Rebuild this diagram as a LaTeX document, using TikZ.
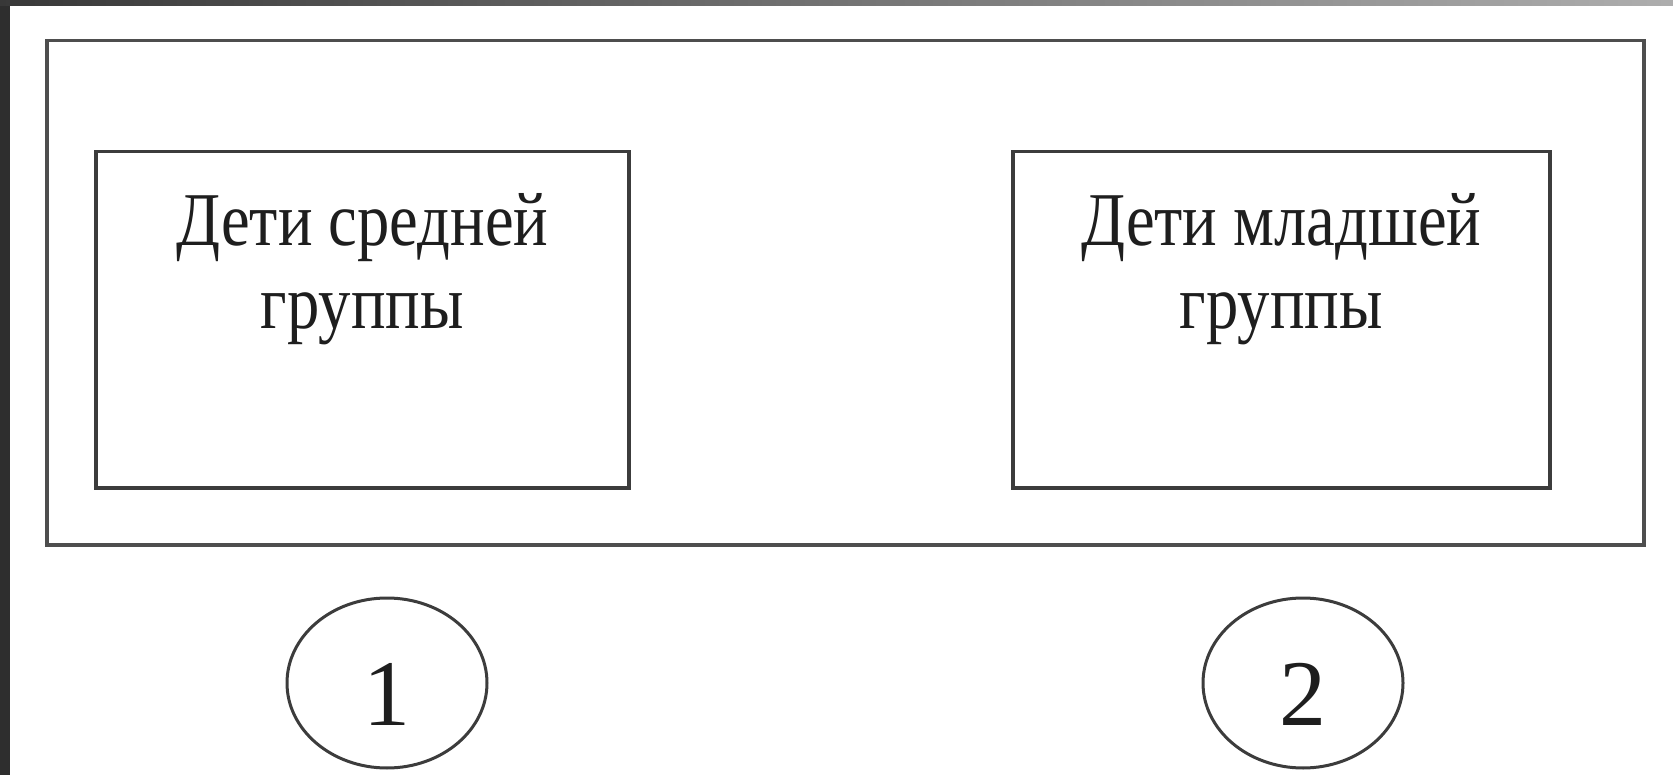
\documentclass[tikz,border=0pt]{standalone}
\usepackage{fontspec}
\setmainfont{Liberation Serif}
\newfontfamily\lblfont{Liberation Serif}[FakeStretch=0.85]
\newfontfamily\numfont{Liberation Serif}
\usetikzlibrary{shapes.geometric}
\definecolor{edge}{HTML}{3C3C3C}
\definecolor{outeredge}{HTML}{4E4E4E}
\definecolor{inktext}{HTML}{1E1E1E}
\tikzset{
  groupbox/.style={draw=edge, line width=3.5pt, fill=white, minimum width=533pt, minimum height=336pt, anchor=north west},
  grouplabel/.style={align=center, inner sep=0pt, anchor=north, font=\lblfont\fontsize{76}{83}\selectfont, text=inktext},
  numoval/.style={draw=edge, line width=3pt, ellipse, minimum width=200pt, minimum height=170pt, font=\numfont\fontsize{94}{94}\selectfont, text=inktext, inner sep=0pt, text height=85pt, text depth=0pt}
}
\begin{document}
\begin{tikzpicture}[x=1pt,y=-1pt]
\useasboundingbox (0,0) rectangle (1673,775);
\fill[white] (0,0) rectangle (1673,775);
\fill[black!82] (0,0) rectangle (10,775);
\shade[left color=black!78, right color=black!32] (0,0) rectangle (1673,6);
\node[draw=outeredge, line width=3.5pt, minimum width=1597pt, minimum height=504pt, anchor=north west] (outer) at (45,39) {};
\node[groupbox] (b1) at (94,150) {};
\node[groupbox, minimum width=537pt] (b2) at (1011,150) {};
\node[grouplabel] (t1) at ([yshift=-43pt]b1.north) {Дети средней\\группы};
\node[grouplabel] (t2) at ([yshift=-43pt]b2.north) {Дети младшей\\группы};
\node[numoval] (c1) at (387,683) {1};
\node[numoval] (c2) at (1303,683) {2};
\end{tikzpicture}
\end{document}
